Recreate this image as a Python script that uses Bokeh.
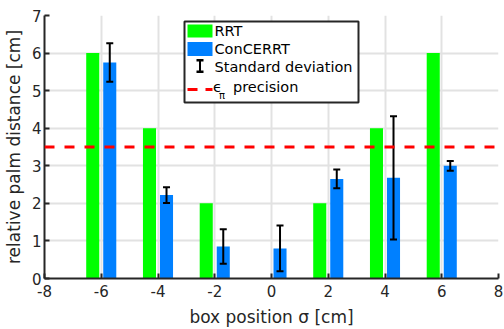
from bokeh.plotting import figure
from bokeh.models import (FixedTicker, Whisker, TeeHead, Span, BoxAnnotation, Label,
                          ColumnDataSource, Range1d)
from bokeh.embed import file_html
from bokeh.resources import INLINE

# ---- data ----
positions = [-6, -4, -2, 0, 2, 4, 6]
rrt = [6, 4, 2, 0, 2, 4, 6]
concerrt = [5.75, 2.22, 0.85, 0.80, 2.65, 2.68, 3.00]
concerrt_std = [0.51, 0.21, 0.46, 0.61, 0.25, 1.64, 0.13]
precision = 3.5
x_ticks = [-8, -6, -4, -2, 0, 2, 4, 6, 8]
y_ticks = [0, 1, 2, 3, 4, 5, 6, 7]
series_names = ["RRT", "ConCERRT", "Standard deviation", "precision"]

GREEN = "#00ff00"
BLUE = "#0080ff"
TXT = "#262626"
FONT = "DejaVu Sans"
off = 0.3
bw = 0.46

src = ColumnDataSource(dict(
    pos=positions,
    xg=[x - off for x in positions],
    xb=[x + off for x in positions],
    rrt=rrt,
    con=concerrt,
    upper=[v + s for v, s in zip(concerrt, concerrt_std)],
    lower=[v - s for v, s in zip(concerrt, concerrt_std)],
))

p = figure(width=504, height=329, x_range=Range1d(-8, 8), y_range=Range1d(0, 7),
           output_backend="svg", toolbar_location=None,
           min_border_left=44, min_border_right=6, min_border_top=15, min_border_bottom=50)
p.outline_line_color = None
p.background_fill_color = "white"
p.border_fill_color = "white"

p.vbar(x="xg", top="rrt", width=bw, source=src, fill_color=GREEN, line_color=None)
p.vbar(x="xb", top="con", width=bw, source=src, fill_color=BLUE, line_color=None)

wh = Whisker(source=src, base="xb", upper="upper", lower="lower",
             line_color="black", line_width=2, level="annotation",
             upper_head=TeeHead(size=7, line_width=2, line_color="black"),
             lower_head=TeeHead(size=7, line_width=2, line_color="black"))
p.add_layout(wh)

p.add_layout(Span(location=precision, dimension="width", line_color="#ff0000",
                  line_width=3, line_dash="10 10"))

# axes
p.xaxis.ticker = FixedTicker(ticks=x_ticks, minor_ticks=[])
p.yaxis.ticker = FixedTicker(ticks=y_ticks, minor_ticks=[])
p.xaxis.major_label_overrides = {t: str(t) for t in x_ticks}
p.yaxis.major_label_overrides = {t: str(t) for t in y_ticks}
for ax in (p.xaxis[0], p.yaxis[0]):
    ax.axis_line_color = TXT
    ax.axis_line_width = 2
    ax.major_tick_line_color = TXT
    ax.major_tick_line_width = 2
    ax.major_tick_in = 5
    ax.major_tick_out = 0
    ax.minor_tick_line_color = None
    ax.major_label_text_font = FONT
    ax.major_label_text_font_size = "15px"
    ax.major_label_text_color = TXT
    ax.axis_label_text_font = FONT
    ax.axis_label_text_font_size = "17px"
    ax.axis_label_text_font_style = "normal"
    ax.axis_label_text_color = TXT
p.xaxis.axis_label = "box position σ [cm]"
p.yaxis.axis_label = "relative palm distance [cm]"
p.xaxis.major_label_standoff = 6
p.xaxis.axis_label_standoff = 7
p.yaxis.major_label_standoff = 3
p.yaxis.axis_label_standoff = 5

p.grid.grid_line_color = "#e2e2e2"
p.grid.grid_line_width = 2
p.xgrid.ticker = FixedTicker(ticks=x_ticks)
p.ygrid.ticker = FixedTicker(ticks=y_ticks)

# ---- legend (drawn in screen units relative to the frame) ----
def box(l, r, b, t, color, lw=0, lc=None):
    return BoxAnnotation(left=l, right=r, bottom=b, top=t,
                         left_units="screen", right_units="screen",
                         bottom_units="screen", top_units="screen",
                         fill_color=color, fill_alpha=1,
                         line_color=lc, line_alpha=1, line_width=lw, level="overlay")

p.add_layout(box(140, 314, 176, 257, "white", 2, TXT))
p.add_layout(box(143, 168, 241, 254, GREEN))
p.add_layout(box(143, 168, 222.5, 236.5, BLUE))
# error-bar icon
p.add_layout(box(154.5, 156.5, 206, 219, "black"))
p.add_layout(box(152, 159, 217, 219.5, "black"))
p.add_layout(box(152, 159, 205.5, 208, "black"))
# dashed line icon
p.add_layout(box(143, 153, 187.5, 190.5, "#ff0000"))
p.add_layout(box(161, 168, 187.5, 190.5, "#ff0000"))

def lab(x, y, t, size="14.5px"):
    return Label(x=x, y=y, x_units="screen", y_units="screen", text=t,
                 text_font=FONT, text_font_size=size, text_color="black",
                 text_baseline="middle", text_align="left", level="overlay")

p.add_layout(lab(170, 247.5, series_names[0]))
p.add_layout(lab(170, 229.3, series_names[1]))
p.add_layout(lab(170, 211.5, series_names[2]))
p.add_layout(lab(168.5, 191.5, "ϵ", "14.5px"))
p.add_layout(lab(174.5, 183, "π", "10px"))
p.add_layout(lab(188.5, 192, series_names[3]))

open("out.html", "w").write(file_html(p, INLINE))
